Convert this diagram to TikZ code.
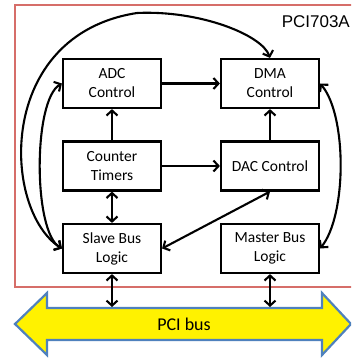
\documentclass[tikz,border=0pt]{standalone}
\usepackage{fontspec}
\setmainfont{Carlito}
\newfontfamily\arialfont{Liberation Sans}
\usetikzlibrary{arrows.meta}
\definecolor{framered}{RGB}{214,110,105}
\definecolor{busblue}{RGB}{79,129,189}
\begin{document}
\begin{tikzpicture}[x=1pt,y=-1pt,
  blk/.style={draw=black,line width=2.2pt,minimum width=98pt,minimum height=49pt,inner sep=0pt,align=center,font=\fontsize{15.5}{19}\selectfont},
  conn/.style={line width=2.1pt,-{Straight Barb[length=5pt,width=11pt]}},
  dconn/.style={line width=2.1pt,{Straight Barb[length=5pt,width=11pt]}-{Straight Barb[length=5pt,width=11pt]}}]
\useasboundingbox (0,0) rectangle (351,358);
\clip (0,0) rectangle (351,358);
\draw[framered,line width=2.2pt] (15,5) rectangle (365,287);
\node[font=\arialfont\fontsize{17}{20}\selectfont,anchor=east,inner sep=0pt] (lbl) at (350,22) {PCI703A};
\node[blk] (adc) at (112,83.5) {ADC\\Control};
\node[blk] (dma) at (270,83.5) {DMA\\Control};
\node[blk] (ct) at (112,166) {Counter\\Timers};
\node[blk] (dac) at (270,166) {DAC Control};
\node[blk] (slave) at (112,248.5) {Slave Bus\\Logic};
\node[blk] (master) at (270,248.5) {Master Bus\\Logic};
\draw[busblue,line width=2.2pt,fill=yellow,line join=miter] (15,324) -- (47,293) -- (47,308) -- (322,308) -- (322,293) -- (351,324) -- (322,355) -- (322,340) -- (47,340) -- (47,355) -- cycle;
\node[font=\fontsize{18}{20}\selectfont] (bus) at (184,324) {PCI bus};
\coordinate (busL) at (112,307);
\coordinate (busR) at (270,307);
\draw[conn] (adc.east) -- (dma.west);
\draw[conn] (ct.north) -- (adc.south);
\draw[conn] (dac.north) -- (dma.south);
\draw[conn] (ct.east) -- (dac.west);
\draw[dconn] (ct.south) -- (slave.north);
\draw[dconn] (slave.east) -- (dac.south);
\draw[dconn] (slave.south) -- (busL);
\draw[dconn] (master.south) -- (busR);
\draw[dconn] (slave.west) .. controls (33,232) and (33,100) .. (adc.west);
\draw[dconn] (slave.west) .. controls (2,210) and (-5,35) .. (137,13) .. controls (200,10) and (262,35) .. (dma.north);
\draw[dconn] (dma.east) .. controls (347,115) and (347,215) .. (master.east);
\end{tikzpicture}
\end{document}
